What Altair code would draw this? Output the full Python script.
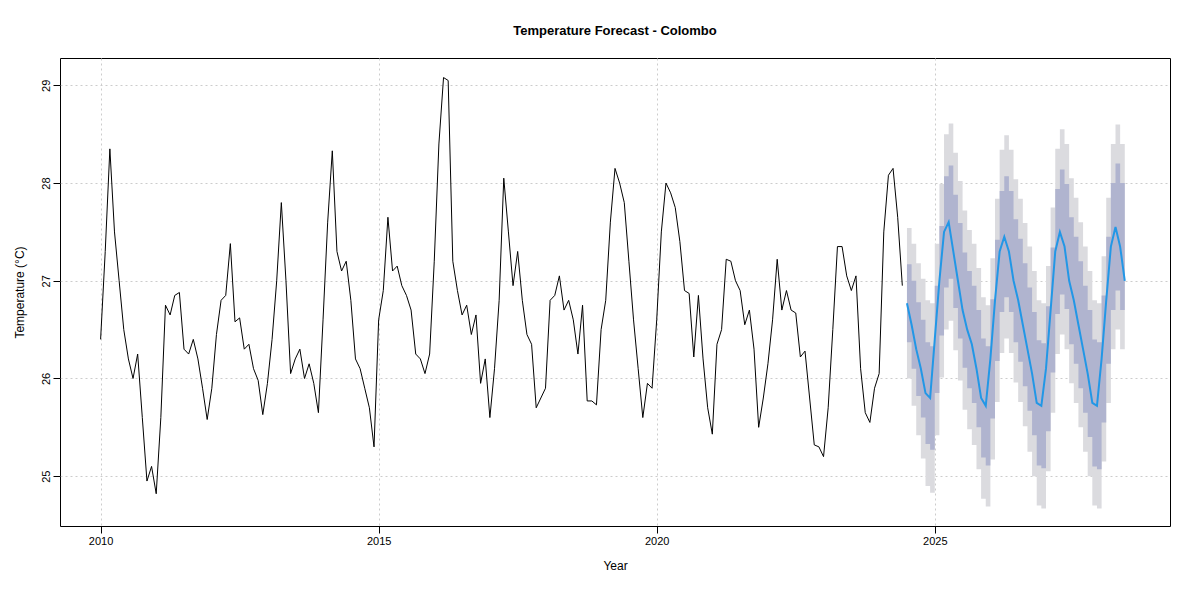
import altair as alt
import pandas as pd

# monthly observations, Jan 2010 .. Jun 2024
obs = [
    26.4, 27.3, 28.35, 27.5, 27.0, 26.5, 26.2, 26.0, 26.25, 25.6, 24.95, 25.1,
    24.82, 25.6, 26.75, 26.65, 26.85, 26.88, 26.3, 26.25, 26.4, 26.2, 25.9, 25.58,
    25.9, 26.45, 26.8, 26.85, 27.38, 26.58, 26.62, 26.3, 26.35, 26.1, 25.98, 25.63,
    25.95, 26.4, 27.0, 27.8, 27.0, 26.05, 26.2, 26.3, 26.0, 26.15, 25.95, 25.65,
    26.6, 27.6, 28.33, 27.3, 27.1, 27.2, 26.8, 26.2, 26.1, 25.9, 25.7, 25.3,
    26.6, 26.9, 27.65, 27.1, 27.15, 26.95, 26.85, 26.7, 26.25, 26.2, 26.05, 26.25,
    27.2, 28.4, 29.08, 29.05, 27.2, 26.9, 26.65, 26.75, 26.45, 26.65, 25.95, 26.2,
    25.6, 26.1, 26.8, 28.05, 27.5, 26.95, 27.3, 26.8, 26.45, 26.35, 25.7, 25.8,
    25.9, 26.8, 26.85, 27.05, 26.7, 26.8, 26.6, 26.25, 26.75, 25.77, 25.77, 25.73,
    26.5, 26.8, 27.6, 28.15, 28.0, 27.8, 27.2, 26.6, 26.1, 25.6, 25.95, 25.9,
    26.6, 27.5, 28.0, 27.9, 27.75, 27.4, 26.9, 26.87, 26.22, 26.85, 26.2, 25.7,
    25.43, 26.35, 26.5, 27.22, 27.2, 27.0, 26.9, 26.55, 26.7, 26.3, 25.5, 25.8,
    26.15, 26.6, 27.22, 26.7, 26.9, 26.7, 26.67, 26.22, 26.28, 25.8, 25.32, 25.3,
    25.2, 25.7, 26.5, 27.35, 27.35, 27.05, 26.9, 27.05, 26.1, 25.65, 25.55, 25.9,
    26.05, 27.5, 28.08, 28.15, 27.65, 26.95,
]

# forecast mean, Jul 2024 .. Jun 2028
fc = [
    26.77, 26.55, 26.3, 26.1, 25.85, 25.8,
    26.4, 27.0, 27.5, 27.6, 27.3, 27.0, 26.7, 26.5, 26.35, 26.1, 25.8, 25.72,
    26.2, 26.8, 27.3, 27.45, 27.3, 27.0, 26.8, 26.55, 26.3, 26.05, 25.75, 25.72,
    26.1, 26.7, 27.3, 27.5, 27.35, 27.0, 26.8, 26.55, 26.3, 26.05, 25.75, 25.72,
    26.2, 26.8, 27.35, 27.55, 27.35, 27.0,
]

# half widths of the 80% and 95% intervals
hw80 = [
    0.40, 0.45, 0.48, 0.50, 0.52, 0.53,
    0.55, 0.56, 0.57, 0.58, 0.58, 0.59, 0.59, 0.60, 0.60, 0.60, 0.61, 0.61,
    0.61, 0.62, 0.62, 0.62, 0.62, 0.63, 0.63, 0.63, 0.63, 0.63, 0.64, 0.64,
    0.64, 0.64, 0.64, 0.64, 0.64, 0.65, 0.65, 0.65, 0.65, 0.65, 0.65, 0.65,
    0.65, 0.65, 0.65, 0.65, 0.65, 0.65,
]
hw95 = [
    0.77, 0.83, 0.88, 0.92, 0.95, 0.97,
    0.98, 0.99, 1.00, 1.01, 1.01, 1.02, 1.02, 1.02, 1.03, 1.03, 1.03, 1.03,
    1.03, 1.04, 1.04, 1.04, 1.04, 1.04, 1.04, 1.04, 1.05, 1.05, 1.05, 1.05,
    1.05, 1.05, 1.05, 1.05, 1.05, 1.05, 1.05, 1.05, 1.05, 1.05, 1.05, 1.05,
    1.05, 1.05, 1.05, 1.05, 1.05, 1.05,
]

hist = pd.DataFrame({"t": [2010 + i / 12 for i in range(len(obs))], "temp": obs})
fdf = pd.DataFrame({
    "t": [2024.5 + i / 12 for i in range(len(fc))],
    "mean": fc,
    "lo80": [m - h for m, h in zip(fc, hw80)],
    "hi80": [m + h for m, h in zip(fc, hw80)],
    "lo95": [m - h for m, h in zip(fc, hw95)],
    "hi95": [m + h for m, h in zip(fc, hw95)],
})

xs = alt.Scale(domain=[2009.27, 2029.23], nice=False, zero=False)
ys = alt.Scale(domain=[24.49, 29.28], nice=False, zero=False)
xax = alt.Axis(values=[2010, 2015, 2020, 2025], format="d", title="Year",
               gridDash=[2, 3], gridColor="#cccccc", titlePadding=14)
yax = alt.Axis(values=[25, 26, 27, 28, 29], format="d", title="Temperature (°C)",
               labelAngle=270, labelAlign="center", labelBaseline="bottom",
               gridDash=[2, 3], gridColor="#cccccc", titlePadding=14)

base_f = alt.Chart(fdf)
band95 = base_f.mark_area(color="#dbdbdf", interpolate="step-after").encode(
    x=alt.X("t:Q", scale=xs, axis=xax), y=alt.Y("lo95:Q", scale=ys, axis=yax), y2="hi95:Q")
band80 = base_f.mark_area(color="#b0b4cf", interpolate="step-after").encode(
    x=alt.X("t:Q", scale=xs), y=alt.Y("lo80:Q", scale=ys), y2="hi80:Q")
fline = base_f.mark_line(color="#2297e6", strokeWidth=2).encode(
    x=alt.X("t:Q", scale=xs), y=alt.Y("mean:Q", scale=ys))
hline = alt.Chart(hist).mark_line(color="black", strokeWidth=1).encode(
    x=alt.X("t:Q", scale=xs), y=alt.Y("temp:Q", scale=ys))

chart = (
    alt.layer(band95, band80, fline, hline)
    .properties(
        width=1110, height=468,
        autosize=alt.AutoSizeParams(type="none"),
        padding={"left": 52, "top": 50, "right": 22, "bottom": 66},
        title=alt.Title("Temperature Forecast - Colombo", fontSize=13,
                        fontWeight="bold", offset=20, font="Liberation Sans"),
    )
    .configure_view(stroke="black", strokeWidth=1)
    .configure_axis(domain=False, tickColor="black", tickSize=7, labelColor="black",
                    labelFont="Liberation Sans", titleFont="Liberation Sans",
                    labelFontSize=11, titleFontSize=12, titleFontWeight="normal",
                    titleColor="black")
)

chart.save("out.html", embed_options={"renderer": "svg", "actions": False})
